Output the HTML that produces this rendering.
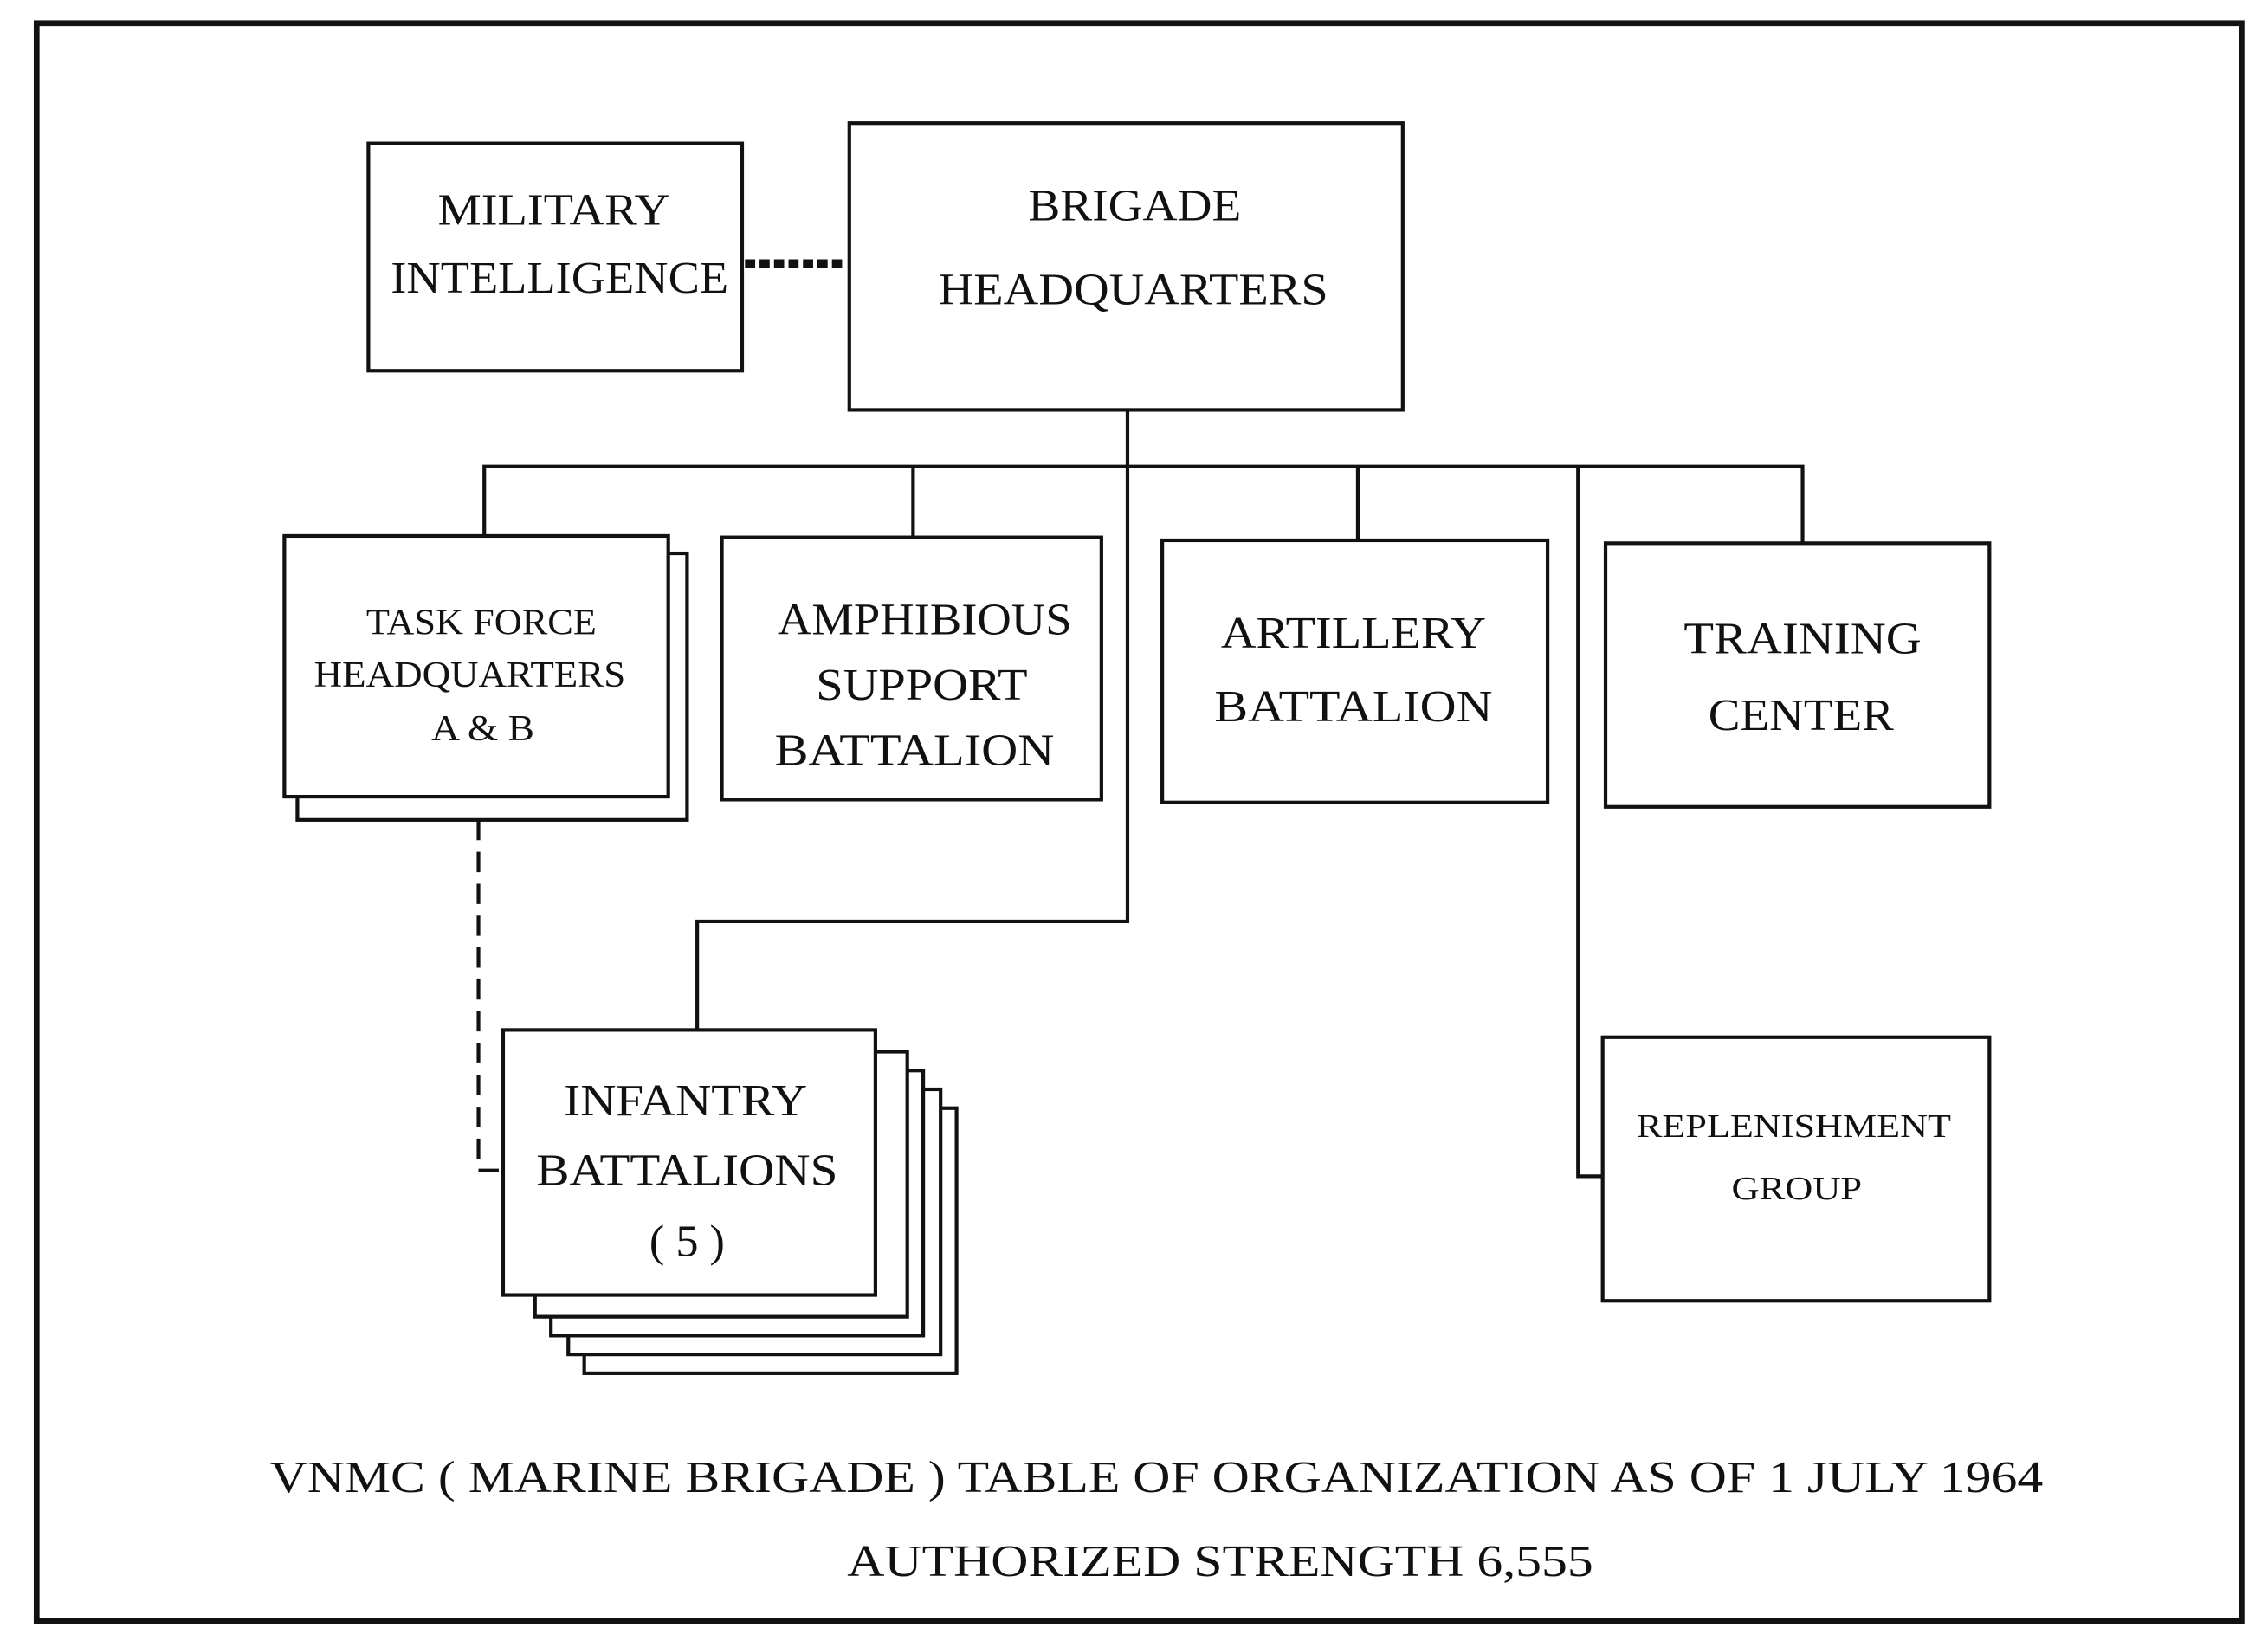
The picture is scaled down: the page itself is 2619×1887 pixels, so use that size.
<!DOCTYPE html>
<html><head><meta charset="utf-8"><style>
html,body{margin:0;padding:0;background:#fff}
svg{display:block}
text{font-family:"Liberation Serif",serif;fill:#111;text-anchor:middle}
</style></head><body>
<svg width="2619" height="1887" viewBox="0 0 1565 1128" xmlns="http://www.w3.org/2000/svg">
<rect x="0" y="0" width="1565" height="1128" fill="#fff"/>
<rect x="25" y="16" width="1522" height="1103" fill="none" stroke="#111" stroke-width="4"/>
<g fill="#fff" stroke="#111" stroke-width="2.5">
<line x1="514" y1="182" x2="584" y2="182" stroke-width="6" stroke-dasharray="7,3"/>
<polyline fill="none" points="778,283 778,636 481,636 481,712"/>
<polyline fill="none" points="334,370 334,322 1244,322 1244,376"/>
<line x1="630" y1="322" x2="630" y2="372"/>
<line x1="937" y1="322" x2="937" y2="374"/>
<polyline fill="none" points="1089,322 1089,812 1106,812"/>
<polyline fill="none" points="330,566 330,808 347,808" stroke-dasharray="14,8"/>
<rect x="254" y="99" width="258" height="157"/>
<rect x="586" y="85" width="382" height="198"/>
<rect x="205" y="382" width="269" height="184"/>
<rect x="196" y="370" width="265" height="180"/>
<rect x="498" y="371" width="262" height="181"/>
<rect x="802" y="373" width="266" height="181"/>
<rect x="1108" y="375" width="265" height="182"/>
<rect x="1106" y="716" width="267" height="182"/>
<rect x="403" y="765" width="257" height="183"/>
<rect x="392" y="752" width="257" height="183"/>
<rect x="380" y="739" width="257" height="183"/>
<rect x="369" y="726" width="257" height="183"/>
<rect x="347" y="711" width="257" height="183"/>
</g>
<g lengthAdjust="spacingAndGlyphs">
<text x="382" y="155" font-size="31" textLength="160" lengthAdjust="spacingAndGlyphs">MILITARY</text>
<text x="386" y="202" font-size="31" textLength="233" lengthAdjust="spacingAndGlyphs">INTELLIGENCE</text>
<text x="783" y="152" font-size="31" textLength="147" lengthAdjust="spacingAndGlyphs">BRIGADE</text>
<text x="782" y="210" font-size="31" textLength="269" lengthAdjust="spacingAndGlyphs">HEADQUARTERS</text>
<text x="332" y="438" font-size="25" textLength="159" lengthAdjust="spacingAndGlyphs">TASK FORCE</text>
<text x="324" y="474" font-size="25" textLength="215" lengthAdjust="spacingAndGlyphs">HEADQUARTERS</text>
<text x="333" y="511" font-size="25" textLength="71" lengthAdjust="spacingAndGlyphs">A &amp; B</text>
<text x="638" y="438" font-size="31" textLength="203" lengthAdjust="spacingAndGlyphs">AMPHIBIOUS</text>
<text x="636" y="483" font-size="31" textLength="146" lengthAdjust="spacingAndGlyphs">SUPPORT</text>
<text x="631" y="528" font-size="31" textLength="193" lengthAdjust="spacingAndGlyphs">BATTALION</text>
<text x="934" y="447" font-size="31" textLength="183" lengthAdjust="spacingAndGlyphs">ARTILLERY</text>
<text x="934" y="498" font-size="31" textLength="192" lengthAdjust="spacingAndGlyphs">BATTALION</text>
<text x="1244" y="451" font-size="31" textLength="164" lengthAdjust="spacingAndGlyphs">TRAINING</text>
<text x="1243" y="504" font-size="31" textLength="128" lengthAdjust="spacingAndGlyphs">CENTER</text>
<text x="1238" y="785" font-size="23" textLength="217" lengthAdjust="spacingAndGlyphs">REPLENISHMENT</text>
<text x="1240" y="828" font-size="23" textLength="90" lengthAdjust="spacingAndGlyphs">GROUP</text>
<text x="473" y="770" font-size="31" textLength="168" lengthAdjust="spacingAndGlyphs">INFANTRY</text>
<text x="474" y="818" font-size="31" textLength="208" lengthAdjust="spacingAndGlyphs">BATTALIONS</text>
<text x="474" y="867" font-size="31" textLength="52" lengthAdjust="spacingAndGlyphs">( 5 )</text>
<text x="798" y="1030" font-size="31" textLength="1224" lengthAdjust="spacingAndGlyphs">VNMC ( MARINE BRIGADE ) TABLE  OF  ORGANIZATION  AS  OF  1  JULY  1964</text>
<text x="842" y="1088" font-size="31" textLength="515" lengthAdjust="spacingAndGlyphs">AUTHORIZED  STRENGTH   6,555</text>
</g>
</svg>
</body></html>
